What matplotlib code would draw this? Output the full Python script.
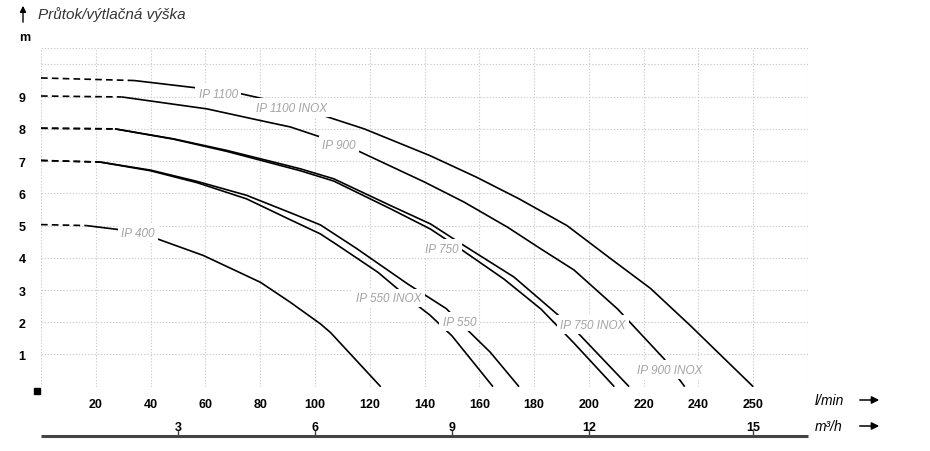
import matplotlib
matplotlib.use("Agg")
import matplotlib.pyplot as plt
import matplotlib.transforms as mtransforms

plt.rcParams['font.family'] = ['Liberation Sans Narrow', 'Liberation Sans', 'DejaVu Sans']

# pump curves, x in chart units (l/min grid), y = head in m
ip1100_x = [0, 34, 57, 73, 84, 101, 118, 142, 159, 174.5, 192, 208, 222.5, 237, 260]
ip1100_y = [9.58, 9.50, 9.27, 9.09, 8.88, 8.47, 8.00, 7.17, 6.50, 5.83, 5.00, 3.97, 3.05, 1.90, 0]

ip900_x = [0, 29.5, 60.6, 80, 91, 103, 115.4, 140, 154.4, 170.3, 182.4, 194.6, 210.5, 227.5, 235]
ip900_y = [9.02, 8.99, 8.62, 8.26, 8.06, 7.72, 7.33, 6.35, 5.73, 4.95, 4.28, 3.62, 2.41, 0.86, 0]

ip750inox_x = [0, 27, 48.4, 67.9, 84.9, 94.7, 106.9, 127.6, 142.2, 154.4, 172.7, 189.8, 195.2, 214.7]
ip750inox_y = [8.02, 8.00, 7.69, 7.33, 6.97, 6.76, 6.45, 5.62, 5.05, 4.38, 3.40, 2.15, 1.74, 0]

ip750_x = [0, 27, 48.4, 67.9, 84.9, 94.7, 106.9, 127.6, 142.2, 153.2, 169, 182.5, 194.6, 209.3]
ip750_y = [8.02, 8.00, 7.68, 7.30, 6.92, 6.70, 6.38, 5.52, 4.89, 4.27, 3.34, 2.41, 1.35, 0]

ip550_x = [0, 21.6, 40, 57, 75, 91, 102, 115, 134, 148, 154, 164, 174.5]
ip550_y = [7.02, 6.97, 6.72, 6.37, 5.94, 5.40, 5.02, 4.30, 3.18, 2.42, 1.90, 1.07, 0]

ip550inox_x = [0, 21.6, 40, 57, 75, 91, 102, 109, 123, 137, 142, 150, 165]
ip550inox_y = [7.02, 6.97, 6.70, 6.33, 5.83, 5.18, 4.74, 4.35, 3.55, 2.55, 2.22, 1.58, 0]

ip400_x = [0, 16.5, 28.9, 41.7, 59.3, 80.1, 91, 102, 105.7, 124]
ip400_y = [5.03, 5.00, 4.87, 4.61, 4.07, 3.24, 2.62, 1.95, 1.68, 0]

# x where the dashed (extrapolated) part ends
dash_end = {'ip1100': 34, 'ip900': 29.5, 'ip750inox': 27, 'ip750': 27,
            'ip550': 21.6, 'ip550inox': 21.6, 'ip400': 16.5}

curves = {
    'ip1100': (ip1100_x, ip1100_y),
    'ip900': (ip900_x, ip900_y),
    'ip750inox': (ip750inox_x, ip750inox_y),
    'ip750': (ip750_x, ip750_y),
    'ip550': (ip550_x, ip550_y),
    'ip550inox': (ip550inox_x, ip550inox_y),
    'ip400': (ip400_x, ip400_y),
}

# curve labels and where they sit
label_text = ['IP 1100', 'IP 1100 INOX', 'IP 900', 'IP 900 INOX', 'IP 750', 'IP 750 INOX',
              'IP 550', 'IP 550 INOX', 'IP 400']
label_x = [64.7, 91.4, 108.8, 229.4, 146.4, 201.5, 152.7, 126.9, 35.5]
label_y = [9.09, 8.65, 7.50, 0.53, 4.28, 1.92, 2.02, 2.75, 4.76]

# axes ticks
lmin_pos = [20, 40, 60, 80, 100, 120, 140, 160, 180, 200, 220, 240, 260]
lmin_labels = ['20', '40', '60', '80', '100', '120', '140', '160', '180', '200', '220', '240', '250']
m3h_pos = [50, 100, 150, 200, 260]
m3h_labels = ['3', '6', '9', '12', '15']
head_ticks = [1, 2, 3, 4, 5, 6, 7, 8, 9]

fig = plt.figure(figsize=(9.3, 4.52), dpi=100)
ax = fig.add_axes([41 / 930, 1 - 387.7 / 452, (808 - 41) / 930, (387.7 - 49.3) / 452])
ax.set_xlim(0, 280)
ax.set_ylim(0, 10.5)

grid_kw = dict(color='#cccccc', lw=0.8, ls=(0, (1.2, 1.6)), zorder=0)
for gx in range(0, 281, 20):
    ax.axvline(gx, **grid_kw)
for gy in list(range(0, 11)) + [10.5]:
    ax.axhline(gy, **grid_kw)
for s in ax.spines.values():
    s.set_visible(False)

for name, (xs, ys) in curves.items():
    k = xs.index(dash_end[name])
    ax.plot(xs[:k + 1], ys[:k + 1], color='black', lw=1.2, ls=(0, (4, 2.5)), zorder=2)
    ax.plot(xs[k:], ys[k:], color='black', lw=1.2, zorder=2, solid_capstyle='butt',
            solid_joinstyle='round')

for t, lx, ly in zip(label_text, label_x, label_y):
    ax.text(lx, ly, t, ha='center', va='center', fontsize=8.5, style='italic', color='#a3a3a3',
            bbox=dict(facecolor='white', edgecolor='none', pad=2.5), zorder=3)

ax.set_yticks(head_ticks)
ax.set_yticklabels([str(v) for v in head_ticks], fontsize=9, fontweight='bold')
ax.set_xticks(lmin_pos)
ax.set_xticklabels(lmin_labels, fontsize=9, fontweight='bold')
ax.tick_params(axis='y', length=0, pad=11)
ax.tick_params(axis='x', length=0, pad=8)

# second scale in m3/h
trans = mtransforms.blended_transform_factory(ax.transData, fig.transFigure)
for p, lab in zip(m3h_pos, m3h_labels):
    ax.text(p, 1 - 428 / 452, lab, transform=trans, ha='center', va='center',
            fontsize=9, fontweight='bold', clip_on=False)
    ax.plot([p, p], [1 - 437 / 452, 1 - 432 / 452], transform=trans, color='#444444',
            lw=1, clip_on=False)
ax.plot([0, 280], [1 - 437 / 452, 1 - 437 / 452], transform=trans, color='#444444', lw=2.2,
        clip_on=False, solid_capstyle='butt')

fig.text(815 / 930, 1 - 401 / 452, 'l/min', fontsize=10, style='italic', ha='left', va='center')
fig.text(815 / 930, 1 - 427 / 452, 'm³/h', fontsize=10, style='italic', ha='left', va='center')
for yy in (401, 427):
    fig.add_artist(matplotlib.patches.FancyArrowPatch(
        (857 / 930, 1 - yy / 452), (882 / 930, 1 - yy / 452), transform=fig.transFigure,
        arrowstyle='-|>', mutation_scale=11, color='black', lw=1.1))

# origin marker, unit and title
fig.add_artist(matplotlib.patches.Rectangle((34 / 930, 1 - 395 / 452), 6 / 930, 6 / 452,
                                            transform=fig.transFigure, color='black'))
fig.text(25 / 930, 1 - 38 / 452, 'm', fontsize=9, fontweight='bold', ha='center', va='center')
fig.add_artist(matplotlib.patches.FancyArrowPatch(
    (23 / 930, 1 - 26 / 452), (23 / 930, 1 - 4 / 452), transform=fig.transFigure,
    arrowstyle='-|>', mutation_scale=9, color='black', lw=1.0))
fig.text(38 / 930, 1 - 15 / 452, 'Průtok/výtlačná výška', fontsize=11, style='italic',
         color='#333333', ha='left', va='center')

fig.savefig('out.png', dpi=100)
